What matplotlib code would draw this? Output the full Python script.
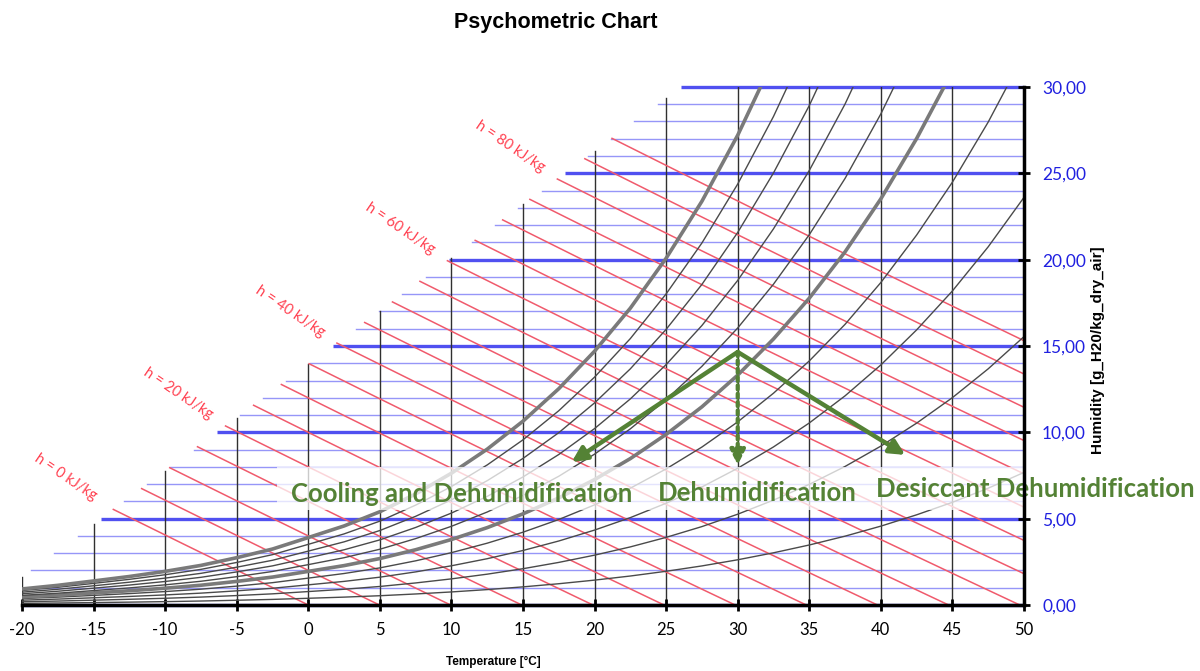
import numpy as np
import matplotlib
matplotlib.use("Agg")
import matplotlib.pyplot as plt
from matplotlib.patches import Rectangle

# saturation table (kPa)
sat_temp = [-20, -17.5, -15, -12.5, -10, -7.5, -5, -2.5, 0, 2.5, 5, 7.5, 10, 12.5, 15,
            17.5, 20, 22.5, 25, 27.5, 30, 32.5, 35, 37.5, 40, 42.5, 45, 47.5, 50]
sat_press = [0.151, 0.185, 0.226, 0.268, 0.316, 0.372, 0.444, 0.525, 0.632, 0.740, 0.872,
             1.037, 1.228, 1.449, 1.705, 2.000, 2.339, 2.725, 3.169, 3.671, 4.246, 4.898,
             5.628, 6.451, 7.384, 8.435, 9.595, 10.90, 12.35]
rh_levels = [0.1, 0.2, 0.3, 0.4, 0.5, 0.6, 0.7, 0.8, 0.9, 1.0]
rh_bold = [0.5, 1.0]
p_atm = 101.325

enthalpies = list(range(0, 95, 5))
enthalpy_labels = [0, 20, 40, 60, 80]

grid_temps = list(range(-20, 50, 5))
humid_levels = list(range(0, 31))
# upper-left edge of the grid: humidity at -20 degC and rise per degC
edge_x0 = 1.6
edge_slope = 0.617

x_ticks = list(range(-20, 55, 5))
y_ticks = list(range(0, 35, 5))

peak = (30, 14.65)
cool_end = (18.4, 8.28)
desic_end = (41.7, 8.69)
dehum_end = (30, 8.1)

processes = ["Cooling and Dehumidification", "Dehumidification", "Desiccant Dehumidification"]
process_pos = [(10.74, 6.45), (31.35, 6.5), (50.77, 6.73)]

green = "#548235"


def edge(t):
    return edge_x0 + edge_slope * (np.asarray(t) + 20)


fig = plt.figure(figsize=(12, 6.71), dpi=100)
ax = fig.add_axes([0.01833, 0.0984, 0.835, 0.772])
ax.set_xlim(-20, 50)
ax.set_ylim(0, 30)

# horizontal humidity lines
for y in humid_levels:
    t0 = max(-20, (y - edge_x0) / edge_slope - 20)
    if y % 5 == 0:
        ax.plot([t0, 50], [y, y], color="#5050f0", lw=2.4, zorder=1, clip_on=False,
                solid_capstyle="butt")
    else:
        ax.plot([t0, 50], [y, y], color="#9696f8", lw=1.0, zorder=1)

# vertical temperature lines
for t in grid_temps:
    ax.plot([t, t], [0, min(30, float(edge(t)))], color="#303030", lw=1.0, zorder=1)

# enthalpy lines
tt = np.arange(-20, 50.001, 0.02)
for h in enthalpies:
    xh = (h - 1.006 * tt) / (2.501 + 0.00186 * tt)
    ok = (xh <= edge(tt)) & (xh >= 0)
    ax.plot(tt[ok], xh[ok], color="#f05a6c", lw=1.1, zorder=2)
    if h in enthalpy_labels:
        i0 = np.argmax(ok)
        ax.annotate("h = %d kJ/kg" % h, (tt[i0], xh[i0]), xytext=(-34, 23),
                    textcoords="offset points", ha="center", va="center",
                    rotation=-34, color="#ff4050", fontsize=10.5, family="Lato",
                    annotation_clip=False)

# relative humidity curves
ts = np.array(sat_temp)
ps = np.array(sat_press)
for rh in rh_levels:
    pv = rh * ps
    xw = 622 * pv / (p_atm - pv)
    if rh in rh_bold:
        ax.plot(ts, xw, color="#7a7a7a", lw=2.6, zorder=3)
    else:
        ax.plot(ts, xw, color="#4a4a4a", lw=1.0, zorder=3)

# white band behind the process labels
ax.add_patch(Rectangle((-2.2, 5.5), 52.2, 2.5, facecolor="white", alpha=0.75,
                       edgecolor="none", zorder=4))

# process arrows
arrow_kw = dict(arrowstyle="-|>,head_length=0.9,head_width=0.45", color=green, lw=3.2,
                shrinkA=0, shrinkB=0)
ax.annotate("", xy=cool_end, xytext=peak, arrowprops=arrow_kw, zorder=5)
ax.annotate("", xy=desic_end, xytext=peak, arrowprops=arrow_kw, zorder=5)
ax.annotate("", xy=dehum_end, xytext=peak,
            arrowprops=dict(arrowstyle="-|>,head_length=0.9,head_width=0.45", color=green,
                            lw=3.0, linestyle=(0, (1, 1)), shrinkA=0, shrinkB=0), zorder=5)
for txt, pos in zip(processes, process_pos):
    ax.text(pos[0], pos[1], txt, ha="center", va="center", color=green, fontsize=18.5,
            fontweight="bold", family="Lato", zorder=6, clip_on=False)

# axes styling
for s in ["left", "top"]:
    ax.spines[s].set_visible(False)
for s in ["bottom", "right"]:
    ax.spines[s].set_linewidth(2.5)
    ax.spines[s].set_zorder(7)
ax.set_xticks(x_ticks)
ax.set_xticklabels([str(v) for v in x_ticks], family="Lato", fontsize=12)
ax.yaxis.tick_right()
ax.set_yticks(y_ticks)
ax.set_yticklabels([("%.2f" % v).replace(".", ",") for v in y_ticks], family="Lato",
                   fontsize=12.5, color="#2020e0")
ax.tick_params(axis="x", direction="inout", length=8, width=2, pad=8)
ax.tick_params(axis="y", direction="inout", length=8, width=2, pad=9)

fig.text(0.463, 0.967, "Psychometric Chart", ha="center", va="center", fontsize=15.5,
         fontweight="bold", family="Liberation Sans")
fig.text(0.411, 0.0134, "Temperature [°C]", ha="center", va="center", fontsize=8.5,
         fontweight="bold", family="Liberation Sans")
fig.text(0.915, 0.478, "Humidity [g_H20/kg_dry_air]", ha="center", va="center",
         rotation=90, fontsize=11, fontweight="bold", family="Liberation Sans")

fig.savefig("out.png", dpi=100)
